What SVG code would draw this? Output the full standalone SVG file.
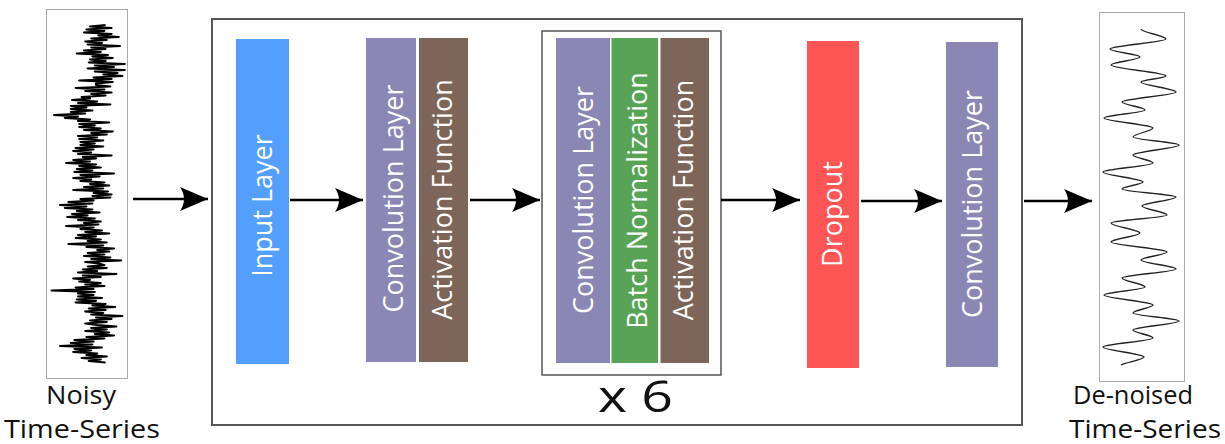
<svg xmlns="http://www.w3.org/2000/svg" width="1225" height="444" viewBox="0 0 1225 444">
<defs>
<marker id="ah" markerUnits="userSpaceOnUse" markerWidth="32" markerHeight="28" refX="28" refY="12" orient="auto" viewBox="0 0 32 28">
<path d="M28,12 L0,0 Q8,12 0,24 Z" fill="#000"/>
</marker>
</defs>
<style>
.lbl{font-family:"Open Sans","DejaVu Sans",sans-serif;font-size:27px;fill:#fff;text-anchor:middle}
.cap{font-family:"Open Sans","DejaVu Sans",sans-serif;font-size:25px;fill:#111;text-anchor:middle}
.conv{fill:#8a87b4}
.act{fill:#7d6559}
.frame{fill:none;stroke:#555;stroke-width:2}
.ts{fill:#fff;stroke:#aaa;stroke-width:1}
.arrow{stroke:#000;stroke-width:2.5;fill:none;marker-end:url(#ah)}
</style>
<rect width="1225" height="444" fill="#fff"/>

<g id="noisy-series">
<rect class="ts" x="46.5" y="9.5" width="81" height="369"/>
<polyline transform="translate(90,0) scale(1.2,1) translate(-90,0)" fill="none" stroke="#000" stroke-width="1.8" stroke-linejoin="round" points="103,25 90,26.5 108,28 87,29.5 102,31 85,32.5 108,34 97,35.5 114,37 91,38.5 104,40 86,41.5 100,43 88,44.5 115,46 91,47.5 103,49 85,50.5 99,52 79,53.5 105,55 92,56.5 109,58 90,59.5 103,61 89,62.5 119,64 94,65.5 110,67 88,68.5 119,70 94,71.5 113,73 101,74.5 117,76 93,77.5 108,79 81,80.5 109,82 95,83.5 95,85 107,86.5 78,88 102,89.5 86,91 108,92.5 91,94 103,95.5 83,97 90,98.5 75,100 96,101.5 80,103 107,104.5 74,106 87,107.5 74,109 92,110.5 74,112 86,113.5 60,115 80,116.5 69,118 90,119.5 80,121 106,122.5 81,124 94,125.5 81,127 99,128.5 85,130 109,131.5 91,133 104,134.5 80,136 96,137.5 81,139 101,140.5 82,142 94,143.5 82,145 101,146.5 78,148 93,149.5 76,151 91,152.5 80,154 108,155.5 84,157 95,158.5 76,160 90,161.5 70,163 95,164.5 81,166 99,167.5 79,169 92,170.5 77,172 110,173.5 82,175 98,176.5 76,178 91,179.5 82,181 102,182.5 90,184 106,185.5 85,187 101,188.5 76,190 105,191.5 93,193 108,194.5 92,196 107,197.5 82,199 93,200.5 72,202 92,203.5 65,205 87,206.5 69,208 92,209.5 79,211 98,212.5 75,214 88,215.5 71,217 94,218.5 80,220 99,221.5 85,223 97,224.5 70,226 93,227.5 82,229 100,230.5 86,232 106,233.5 80,235 95,236.5 78,238 99,239.5 88,241 104,242.5 72,244 101,245.5 87,247 110,248.5 96,250 106,251.5 88,253 102,254.5 85,256 107,257.5 91,259 116,260.5 86,262 98,263.5 102,265 88,266.5 104,268 84,269.5 96,271 80,272.5 112,274 84,275.5 99,277 76,278.5 90,280 81,281.5 99,283 86,284.5 102,286 78,287.5 93,289 58,290.5 94,292 80,293.5 93,295 80,296.5 100,298 79,299.5 95,301 78,302.5 103,304 92,305.5 111,307 89,308.5 103,310 86,311.5 101,313 91,314.5 117,316 95,317.5 108,319 90,320.5 104,322 86,323.5 96,325 112,326.5 91,328 104,329.5 86,331 106,332.5 94,334 110,335.5 87,337 102,338.5 77,340 93,341.5 74,343 92,344.5 65,346 100,347.5 77,349 91,350.5 76,352 96,353.5 87,355 104,356.5 83,358 99,359.5 89,361 103,362.5"/>
<text class="cap" x="81" y="404" textLength="70" lengthAdjust="spacingAndGlyphs">Noisy</text>
<text class="cap" x="82" y="437.5" textLength="156" lengthAdjust="spacingAndGlyphs">Time-Series</text>
</g>

<g id="network-frame">
<rect class="frame" x="212" y="19" width="810" height="406"/>
</g>

<g id="input-layer">
<rect x="236" y="39" width="53" height="325" fill="#559ffc"/>
<text class="lbl" transform="translate(271.5,205.5) rotate(-90)">Input Layer</text>
</g>

<g id="conv-act-1">
<rect class="conv" x="366" y="38" width="50" height="324"/>
<rect class="act" x="419" y="38" width="49" height="324"/>
<text class="lbl" transform="translate(403,198.5) rotate(-90)">Convolution Layer</text>
<text class="lbl" transform="translate(452,199.5) rotate(-90)">Activation Function</text>
</g>

<g id="repeat-block">
<rect x="542" y="31" width="179" height="344" fill="none" stroke="#555" stroke-width="1.5"/>
<rect class="conv" x="556" y="38" width="54" height="325"/>
<rect x="611.5" y="38" width="46.5" height="325" fill="#58a356"/>
<rect class="act" x="660.5" y="38" width="48.5" height="325"/>
<text class="lbl" transform="translate(593,200) rotate(-90)">Convolution Layer</text>
<text class="lbl" transform="translate(646.5,200.5) rotate(-90)">Batch Normalization</text>
<text class="lbl" transform="translate(693,200) rotate(-90)">Activation Function</text>
<text x="635.5" y="411.5" font-family="Open Sans, DejaVu Sans, sans-serif" font-size="43" fill="#111" text-anchor="middle" textLength="75" lengthAdjust="spacingAndGlyphs">x 6</text>
</g>

<g id="dropout">
<rect x="807" y="41" width="52" height="327" fill="#fe5555"/>
<text class="lbl" transform="translate(841.5,214) rotate(-90)">Dropout</text>
</g>

<g id="conv-last">
<rect class="conv" x="946" y="42" width="52" height="325"/>
<text class="lbl" transform="translate(981.5,204) rotate(-90)">Convolution Layer</text>
</g>

<g id="denoised-series">
<rect class="ts" x="1099.5" y="12.5" width="85" height="369"/>
<path fill="none" stroke="#222" stroke-width="1.3" d="M1141,29 C1141,32.3 1166,35.7 1166,39 C1166,42.3 1110,45.7 1110,49 C1110,51.7 1140,54.3 1140,57 C1140,59.7 1111,62.3 1111,65 C1111,68.7 1166,72.3 1166,76 C1166,78 1141,80 1141,82 C1141,85.3 1176,88.7 1176,92 C1176,95.3 1122,98.7 1122,102 C1122,104.7 1145,107.3 1145,110 C1145,112.7 1104,115.3 1104,118 C1104,121.3 1153,124.7 1153,128 C1153,131 1133,134 1133,137 C1133,139.7 1179,142.3 1179,145 C1179,148.3 1133,151.7 1133,155 C1133,157.7 1153,160.3 1153,163 C1153,166 1103,169 1103,172 C1103,175.3 1143,178.7 1143,182 C1143,184.3 1122,186.7 1122,189 C1122,191.7 1176,194.3 1176,197 C1176,200 1142,203 1142,206 C1142,209 1167,212 1167,215 C1167,217.7 1111,220.3 1111,223 C1111,226.3 1140,229.7 1140,233 C1140,236 1111,239 1111,242 C1111,245.3 1167,248.7 1167,252 C1167,254.7 1141,257.3 1141,260 C1141,263 1176,266 1176,269 C1176,272 1122,275 1122,278 C1122,281 1145,284 1145,287 C1145,289.7 1104,292.3 1104,295 C1104,298.3 1153,301.7 1153,305 C1153,307.7 1133,310.3 1133,313 C1133,315.7 1179,318.3 1179,321 C1179,324 1133,327 1133,330 C1133,332.7 1153,335.3 1153,338 C1153,341 1103,344 1103,347 C1103,350.3 1144,353.7 1144,357 C1144,359.7 1124,362.5 1121,365"/>
<text class="cap" x="1133" y="404" textLength="120" lengthAdjust="spacingAndGlyphs">De-noised</text>
<text class="cap" x="1145" y="437.5" textLength="152" lengthAdjust="spacingAndGlyphs">Time-Series</text>
</g>

<g id="connectors">
<line class="arrow" x1="133" y1="199" x2="208" y2="199"/>
<line class="arrow" x1="290" y1="200" x2="363" y2="200"/>
<line class="arrow" x1="470" y1="200" x2="540" y2="200"/>
<line class="arrow" x1="721" y1="200" x2="800" y2="200"/>
<line class="arrow" x1="861" y1="201" x2="942" y2="201"/>
<line class="arrow" x1="1024" y1="201" x2="1092" y2="201"/>
</g>
</svg>
